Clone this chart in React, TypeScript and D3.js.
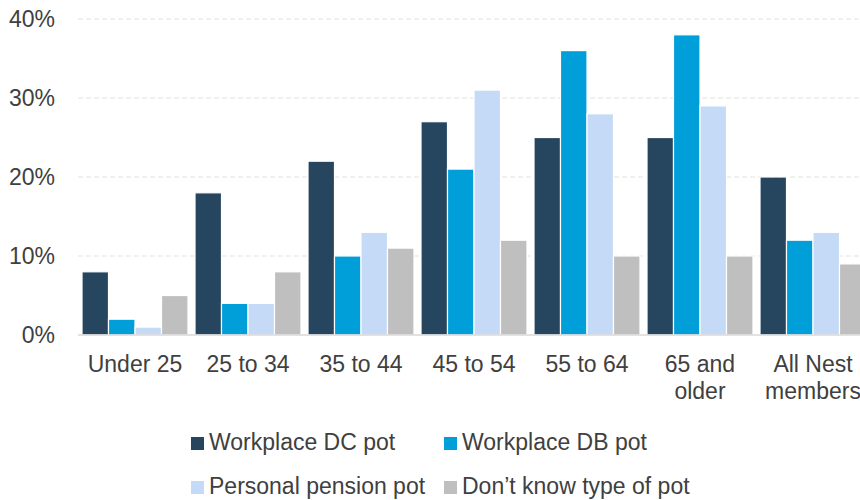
import React from "react";
import * as d3 from "d3";

const categories = [
  ["Under 25"],
  ["25 to 34"],
  ["35 to 44"],
  ["45 to 54"],
  ["55 to 64"],
  ["65 and", "older"],
  ["All Nest", "members"],
];
const seriesNames = [
  "Workplace DC pot",
  "Workplace DB pot",
  "Personal pension pot",
  "Don\u2019t know type of pot",
];
const seriesColors = ["#264660", "#009FDA", "#C5DAF6", "#BFBFBF"];
const dcValues = [8, 18, 22, 27, 25, 25, 20];
const dbValues = [2, 4, 10, 21, 36, 38, 12];
const personalValues = [1, 4, 13, 31, 28, 29, 13];
const dontKnowValues = [5, 8, 11, 12, 10, 10, 9];
const yTicks = [0, 10, 20, 30, 40];

const seriesValues = [dcValues, dbValues, personalValues, dontKnowValues];

export default function App() {
  const W = 860;
  const H = 500;
  const font = "'Liberation Sans', Arial, sans-serif";
  const textColor = "#404040";
  const catKeys = categories.map((c) => c.join(" "));

  const x0 = d3
    .scaleBand<string>()
    .domain(catKeys)
    .range([78.5, 78.5 + 7 * 113])
    .paddingInner(0.062)
    .paddingOuter(0.031);
  const x1 = d3
    .scaleBand<number>()
    .domain(d3.range(seriesNames.length))
    .range([0, x0.bandwidth()])
    .padding(0);
  const y = d3.scaleLinear().domain([0, 40]).range([335, 19]);

  const legendPos = [
    { x: 191, y: 437 },
    { x: 444, y: 437 },
    { x: 191, y: 481 },
    { x: 444, y: 481 },
  ];

  return (
    <svg
      width={W}
      height={H}
      style={{ position: "absolute", left: 0, top: 0, background: "#fff" }}
      fontFamily={font}
    >
      {yTicks.map((t) => (
        <g key={t}>
          {t > 0 && (
            <line
              x1={78}
              x2={W}
              y1={y(t)}
              y2={y(t)}
              stroke="#e3e3d8"
              strokeWidth={1}
              strokeDasharray="5,3"
            />
          )}
          <text
            x={55}
            y={y(t)}
            dy="0.36em"
            textAnchor="end"
            fontSize={23}
            fill={textColor}
          >
            {t}%
          </text>
        </g>
      ))}
      {catKeys.map((k, ci) => (
        <g key={k} transform={`translate(${x0(k)},0)`}>
          {seriesValues.map((vals, si) => (
            <rect
              key={si}
              x={x1(si)}
              y={y(vals[ci])}
              width={x1.bandwidth()}
              height={y(0) - y(vals[ci])}
              fill={seriesColors[si]}
              stroke="#ffffff"
              strokeWidth={1.2}
            />
          ))}
        </g>
      ))}
      <line x1={78} x2={W} y1={y(0)} y2={y(0)} stroke="#d9d9d9" strokeWidth={1.5} />
      {categories.map((lines, ci) => (
        <text
          key={ci}
          x={(x0(catKeys[ci]) as number) + x0.bandwidth() / 2}
          y={372}
          textAnchor="middle"
          fontSize={23}
          fill={textColor}
        >
          {lines.map((l, li) => (
            <tspan key={li} x={(x0(catKeys[ci]) as number) + x0.bandwidth() / 2} dy={li === 0 ? 0 : 27}>
              {l}
            </tspan>
          ))}
        </text>
      ))}
      {seriesNames.map((n, i) => (
        <g key={n}>
          <rect x={legendPos[i].x} y={legendPos[i].y} width={13} height={13} fill={seriesColors[i]} />
          <text x={legendPos[i].x + 18} y={legendPos[i].y + 13} fontSize={23} fill={textColor}>
            {n}
          </text>
        </g>
      ))}
    </svg>
  );
}
